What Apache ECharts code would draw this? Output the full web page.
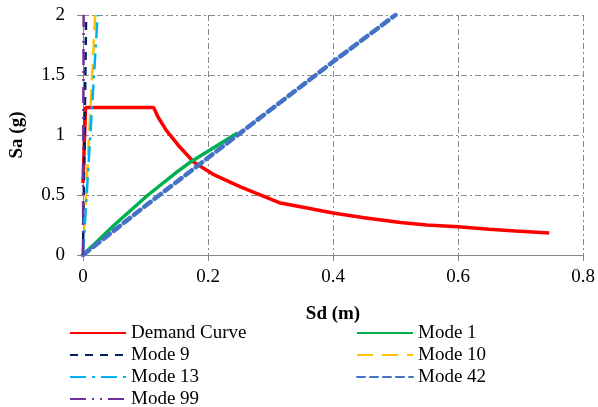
<!DOCTYPE html>
<html><head><meta charset="utf-8">
<script src="https://cdn.jsdelivr.net/npm/echarts@6/dist/echarts.min.js"></script>
<style>html,body{margin:0;padding:0;background:#fff}#c{width:598px;height:407px}</style>
</head><body><div id="c"></div>
<script>
var demandSd = [0, 0.004, 0.113, 0.12, 0.133, 0.152, 0.177, 0.21, 0.252, 0.316, 0.35, 0.4, 0.45, 0.508, 0.55, 0.6, 0.65, 0.692, 0.746];
var demandSa = [0.6, 1.23, 1.23, 1.15, 1.04, 0.917, 0.775, 0.667, 0.567, 0.433, 0.4, 0.35, 0.31, 0.27, 0.25, 0.236, 0.215, 0.2, 0.183];
var mode1Sd = [0, 0.05, 0.104, 0.15, 0.172, 0.2, 0.247];
var mode1Sa = [0, 0.25, 0.5, 0.69, 0.775, 0.865, 1.016];
var mode9Sd = [0, 0.005];
var mode9Sa = [0, 2];
var mode10Sd = [0, 0.0195];
var mode10Sa = [0, 2];
var mode13Sd = [0, 0.0235];
var mode13Sa = [0, 2];
var mode42Sd = [0, 0.1, 0.2, 0.3, 0.4, 0.5];
var mode42Sa = [0, 0.41, 0.81, 1.21, 1.61, 2.0];
var mode99Sd = [0, 0.001];
var mode99Sa = [0, 2];
var xTicks = ['0', '0.2', '0.4', '0.6', '0.8'];
var yTicks = ['0', '0.5', '1', '1.5', '2'];

function pairs(xs, ys) { return xs.map(function (x, i) { return [x, ys[i]]; }); }
var FONT = '"Times New Roman", "Liberation Serif", Times, serif';
function ser(name, xs, ys, color, width, type, cap) {
  return { name: name, type: 'line', data: pairs(xs, ys), symbol: 'none', showSymbol: false,
    lineStyle: { color: color, width: width, type: type, cap: cap || 'butt' },
    itemStyle: { color: color }, animation: false };
}
var chart = echarts.init(document.getElementById('c'), null, { renderer: 'canvas' });
var gridStyle = { show: true, lineStyle: { color: '#8a8a8a', width: 1, type: [6, 3, 2, 3] } };
var legendCommon = {
  orient: 'vertical', top: 323, height: 110, itemWidth: 56, itemHeight: 12, itemGap: 2, padding: 0,
  itemStyle: { opacity: 0 },
  textStyle: { fontFamily: FONT, fontSize: 19, color: '#000', lineHeight: 20 }
};
chart.setOption({
  animation: false,
  textStyle: { fontFamily: FONT },
  grid: { left: 82, right: 15, top: 15, bottom: 152, containLabel: false },
  xAxis: {
    type: 'value', min: 0, max: 0.8, interval: 0.2,
    name: 'Sd (m)', nameLocation: 'middle', nameGap: 50,
    nameTextStyle: { fontFamily: FONT, fontWeight: 'bold', fontSize: 19, color: '#000' },
    axisLine: { show: true, onZero: false, lineStyle: { color: '#868686', width: 1 } },
    axisTick: { show: true, inside: false, length: 6, lineStyle: { color: '#868686' } },
    axisLabel: { fontFamily: FONT, fontSize: 19, color: '#000', margin: 13,
      formatter: function (v) { var i = Math.round(v / 0.2); return xTicks[i]; } },
    splitLine: gridStyle
  },
  yAxis: {
    type: 'value', min: 0, max: 2, interval: 0.5,
    name: 'Sa (g)', nameLocation: 'middle', nameGap: 56, nameRotate: 90,
    nameTextStyle: { fontFamily: FONT, fontWeight: 'bold', fontSize: 19, color: '#000' },
    axisLine: { show: true, onZero: false, lineStyle: { color: '#868686', width: 1 } },
    axisTick: { show: true, inside: false, length: 6, lineStyle: { color: '#868686' } },
    axisLabel: { fontFamily: FONT, fontSize: 19, color: '#000', margin: 18,
      formatter: function (v) { var i = Math.round(v / 0.5); return yTicks[i]; } },
    splitLine: gridStyle
  },
  legend: [
    Object.assign({ data: ['Demand Curve', 'Mode 9', 'Mode 13', 'Mode 99'], left: 69 }, legendCommon),
    Object.assign({ data: ['Mode 1', 'Mode 10', 'Mode 42'], left: 356 }, legendCommon)
  ],
  series: [
    ser('Demand Curve', demandSd, demandSa, '#ff0000', 3.5),
    ser('Mode 1', mode1Sd, mode1Sa, '#00b050', 3.5),
    ser('Mode 9', mode9Sd, mode9Sa, '#002060', 2.5, [8, 7]),
    ser('Mode 10', mode10Sd, mode10Sa, '#ffc000', 2.5, [16, 9]),
    ser('Mode 13', mode13Sd, mode13Sa, '#00b0f0', 2.5, [16, 6, 3, 6]),
    ser('Mode 42', mode42Sd, mode42Sa, '#4472c4', 4.5, [8, 5], 'round'),
    ser('Mode 99', mode99Sd, mode99Sa, '#7030a0', 2.5, [16, 6, 2, 6, 2, 6])
  ]
});
</script></body></html>
